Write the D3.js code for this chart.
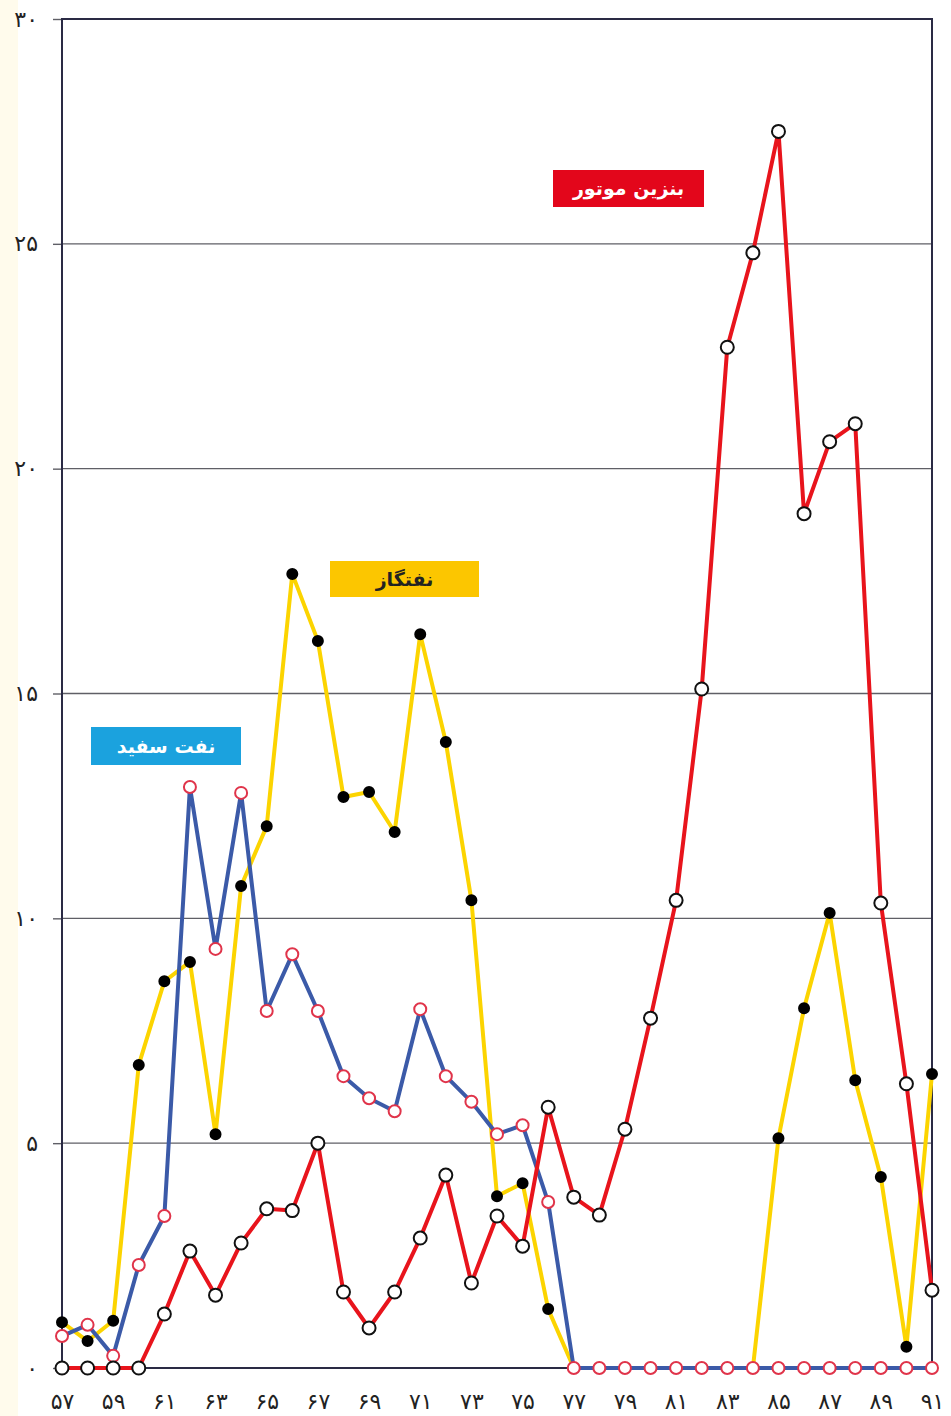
<!DOCTYPE html>
<html lang="fa">
<head>
    <meta charset="UTF-8">
    <title>Fuel chart</title>
    <script src="https://cdn.jsdelivr.net/npm/d3@7"></script>
    <style>
        html, body {
            margin: 0;
            background: #fff;
            font-family: "DejaVu Sans", sans-serif;
        }
    </style>
</head>
<body>
<div id="vis"></div>
<script>
    // years (solar calendar, two digits)
    var years = [57, 58, 59, 60, 61, 62, 63, 64, 65, 66, 67, 68, 69, 70, 71, 72, 73, 74,
                 75, 76, 77, 78, 79, 80, 81, 82, 83, 84, 85, 86, 87, 88, 89, 90, 91];

    // بنزین موتور
    var gasoline = [0, 0, 0, 0, 1.2, 2.6, 1.62, 2.78, 3.54, 3.5, 5.0, 1.69, 0.89, 1.69, 2.89, 4.29, 1.89, 3.38,
                    2.71, 5.8, 3.8, 3.4, 5.31, 7.78, 10.4, 15.1, 22.7, 24.8, 27.5, 19.0, 20.6, 21.0, 10.34, 6.32, 1.73];

    // نفتگاز
    var gasoil = [1.02, 0.6, 1.05, 6.74, 8.6, 9.03, 5.2, 10.72, 12.05, 17.66, 16.17, 12.7, 12.81, 11.92, 16.32, 13.92, 10.4, 3.82,
                  4.11, 1.31, 0, 0, 0, 0, 0, 0, 0, 0, 5.11, 8.0, 10.12, 6.4, 4.25, 0.47, 6.54];

    // نفت سفید
    var kerosene = [0.71, 0.96, 0.27, 2.29, 3.38, 12.92, 9.32, 12.79, 7.94, 9.2, 7.94, 6.49, 6.0, 5.71, 7.98, 6.49, 5.92, 5.2,
                    5.4, 3.69, 0, 0, 0, 0, 0, 0, 0, 0, 0, 0, 0, 0, 0, 0, 0];

    var yTicks = [0, 5, 10, 15, 20, 25, 30];
    var xTicks = [57, 59, 61, 63, 65, 67, 69, 71, 73, 75, 77, 79, 81, 83, 85, 87, 89, 91];

    var view_width = 951, view_height = 1416;
    var margin = {top: 19, bottom: 48, left: 62, right: 19};
    var width = view_width - margin.left - margin.right;
    var height = view_height - margin.top - margin.bottom;

    function fa(n) {
        return String(n).replace(/\d/g, function(c){ return "۰۱۲۳۴۵۶۷۸۹"[+c]; });
    }

    var svg = d3.select('#vis')
        .append('svg')
            .attr('width', view_width)
            .attr('height', view_height);

    // faint cream strip at the left edge of the page
    svg.append('rect')
        .attr('x', 0).attr('y', 0)
        .attr('width', 18).attr('height', view_height)
        .attr('fill', '#fffbec');

    var g = svg.append('g')
        .attr('transform', 'translate(' + margin.left + ',' + margin.top + ')');

    var x_scale = d3.scaleLinear().domain([57, 91]).range([0, width]);
    var y_scale = d3.scaleLinear().domain([0, 30]).range([height, 0]);

    // gridlines
    g.selectAll('.grid')
        .data(yTicks.filter(function(d){ return d > 0 && d < 30; }))
        .enter().append('line')
            .attr('class', 'grid')
            .attr('x1', 0).attr('x2', width)
            .attr('y1', function(d){ return y_scale(d); })
            .attr('y2', function(d){ return y_scale(d); })
            .attr('stroke', '#5f5f66')
            .attr('stroke-width', 1.4);

    var y_axis = d3.axisLeft(y_scale)
        .tickValues(yTicks)
        .tickSizeInner(9)
        .tickSizeOuter(0)
        .tickPadding(15)
        .tickFormat(fa);

    var x_axis = d3.axisBottom(x_scale)
        .tickValues(xTicks)
        .tickSize(0)
        .tickPadding(25)
        .tickFormat(fa);

    var ya = g.append('g').attr('class', 'y axis').call(y_axis);
    ya.select('.domain').remove();
    ya.selectAll('line').attr('stroke', '#5f5f66').attr('stroke-width', 1.4);
    ya.selectAll('text')
        .attr('font-family', '"DejaVu Sans", sans-serif')
        .attr('font-size', 22)
        .attr('fill', '#222');

    var xa = g.append('g').attr('class', 'x axis')
        .attr('transform', 'translate(0,' + height + ')')
        .call(x_axis);
    xa.select('.domain').remove();
    xa.selectAll('text')
        .attr('font-family', '"DejaVu Sans", sans-serif')
        .attr('font-size', 22)
        .attr('fill', '#222');

    // plot frame
    g.append('rect')
        .attr('x', 0).attr('y', 0)
        .attr('width', width).attr('height', height)
        .attr('fill', 'none')
        .attr('stroke', '#2a2a44')
        .attr('stroke-width', 2);

    var series = [
        {name: 'نفتگاز', values: gasoil, color: '#fcd400', mfill: '#000', mstroke: '#000', r: 5},
        {name: 'نفت سفید', values: kerosene, color: '#3b5aa8', mfill: '#fff', mstroke: '#e0344a', r: 6},
        {name: 'بنزین موتور', values: gasoline, color: '#e8141c', mfill: '#fff', mstroke: '#111', r: 6.5}
    ];

    var line = d3.line()
        .x(function(d){ return x_scale(d.year); })
        .y(function(d){ return y_scale(d.value); });

    series.forEach(function(s) {
        var pts = years.map(function(yr, i){ return {year: yr, value: s.values[i]}; });
        g.append('path')
            .datum(pts)
            .attr('fill', 'none')
            .attr('stroke', s.color)
            .attr('stroke-width', 4)
            .attr('stroke-linejoin', 'round')
            .attr('d', line);
        g.selectAll(null)
            .data(pts)
            .enter().append('circle')
                .attr('cx', function(d){ return x_scale(d.year); })
                .attr('cy', function(d){ return y_scale(d.value); })
                .attr('r', s.r)
                .attr('fill', s.mfill)
                .attr('stroke', s.mstroke)
                .attr('stroke-width', 2);
    });

    // labels in coloured boxes
    var labels = [
        {text: 'بنزین موتور', x: 553, y: 170, w: 151, h: 37, bg: '#e3061b', fg: '#fff'},
        {text: 'نفتگاز', x: 330, y: 561, w: 149, h: 36, bg: '#fcc600', fg: '#222'},
        {text: 'نفت سفید', x: 91, y: 727, w: 150, h: 38, bg: '#1ba2de', fg: '#fff'}
    ];

    var lab = svg.selectAll('.label')
        .data(labels)
        .enter().append('g')
            .attr('class', 'label');
    lab.append('rect')
        .attr('x', function(d){ return d.x; })
        .attr('y', function(d){ return d.y; })
        .attr('width', function(d){ return d.w; })
        .attr('height', function(d){ return d.h; })
        .attr('fill', function(d){ return d.bg; });
    lab.append('text')
        .attr('x', function(d){ return d.x + d.w / 2; })
        .attr('y', function(d){ return d.y + d.h / 2; })
        .attr('dy', '0.35em')
        .attr('text-anchor', 'middle')
        .attr('direction', 'rtl')
        .attr('font-family', '"DejaVu Sans", sans-serif')
        .attr('font-weight', 'bold')
        .attr('font-size', 19)
        .attr('fill', function(d){ return d.fg; })
        .text(function(d){ return d.text; });
</script>
</body>
</html>
